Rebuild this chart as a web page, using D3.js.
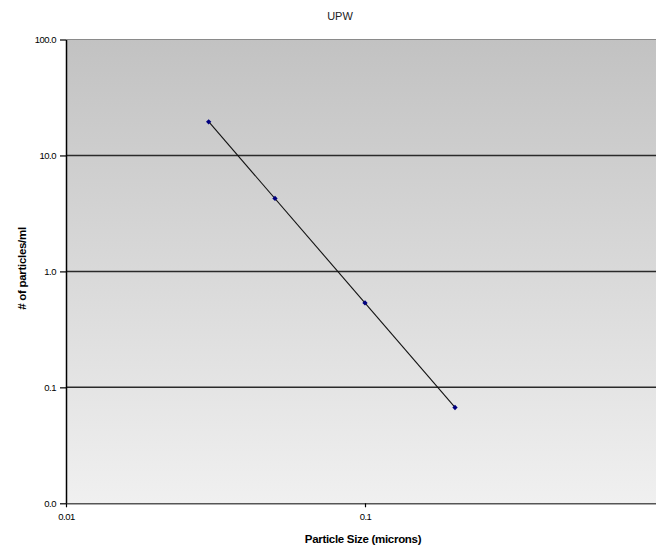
<!DOCTYPE html>
<html>
<head>
<meta charset="utf-8">
<script src="https://cdn.jsdelivr.net/npm/d3@7"></script>
<style>
html,body{margin:0;padding:0;background:#fff;}
svg{display:block;}
</style>
</head>
<body>
<svg id="chart" width="656" height="546"></svg>
<script>
// Data
const title = "UPW";
const xLabel = "Particle Size (microns)";
const yLabel = "# of particles/ml";
const particleSize = [0.03, 0.05, 0.1, 0.2];
const particleCount = [19.5, 4.26, 0.535, 0.067];
const xTicks = [0.01, 0.1];
const yTicks = [0.01, 0.1, 1, 10, 100];
const yTickLabels = ["0.0", "0.1", "1.0", "10.0", "100.0"];
const xTickLabels = ["0.01", "0.1"];

const svg = d3.select("#chart");
const pLeft = 66, pTop = 39.5, pBottom = 503.3, pRight = 664;

const x = d3.scaleLog().domain([0.01, 1]).range([pLeft, pRight]);
const y = d3.scaleLog().domain([0.01, 100]).range([pBottom, pTop]);

const defs = svg.append("defs");
const grad = defs.append("linearGradient").attr("id", "bg")
  .attr("x1", 0).attr("y1", 0).attr("x2", 0).attr("y2", 1);
grad.append("stop").attr("offset", "0%").attr("stop-color", "#c2c2c2");
grad.append("stop").attr("offset", "100%").attr("stop-color", "#f0f0f0");

svg.append("rect").attr("x", pLeft).attr("y", pTop)
  .attr("width", pRight - pLeft + 10).attr("height", pBottom - pTop)
  .attr("fill", "url(#bg)");

// top border
svg.append("line").attr("x1", pLeft).attr("x2", 700).attr("y1", pTop).attr("y2", pTop)
  .attr("stroke", "#8a8a8a").attr("stroke-width", 1.2);

// gridlines
svg.append("g").selectAll("line").data(yTicks.filter(d => d > 0.01 && d < 100)).join("line")
  .attr("x1", pLeft).attr("x2", 700)
  .attr("y1", d => y(d)).attr("y2", d => y(d))
  .attr("stroke", "#2a2a2a").attr("stroke-width", 1.5);

// Y axis
const yAxis = d3.axisLeft(y).tickValues(yTicks)
  .tickFormat((d, i) => yTickLabels[i]).tickSize(6).tickSizeOuter(0);
const gy = svg.append("g").attr("transform", `translate(${pLeft},0)`).call(yAxis);
gy.select(".domain").attr("stroke", "#000").attr("stroke-width", 1.5);
gy.selectAll(".tick line").attr("stroke", "#000").attr("stroke-width", 1.2);
gy.selectAll("text").attr("font-family", "Arial, 'Liberation Sans', sans-serif")
  .attr("font-size", 9.5).attr("fill", "#000").attr("x", -10).attr("letter-spacing", "-0.5");

// X axis
const xAxis = d3.axisBottom(x).tickValues(xTicks)
  .tickFormat((d, i) => xTickLabels[i]).tickSize(4).tickSizeOuter(0);
const gx = svg.append("g").attr("transform", `translate(0,${pBottom})`).call(xAxis);
gx.select(".domain").attr("stroke", "#555").attr("stroke-width", 1.5);
gx.selectAll(".tick line").attr("stroke", "#000").attr("stroke-width", 1.2);
gx.selectAll("text").attr("font-family", "Arial, 'Liberation Sans', sans-serif")
  .attr("font-size", 9.5).attr("fill", "#000").attr("y", 10).attr("letter-spacing", "-0.5");

// Power trendline fit from data (log-log linear regression)
const lx = particleSize.map(Math.log10), ly = particleCount.map(Math.log10);
const mx = d3.mean(lx), my = d3.mean(ly);
const slope = d3.sum(lx.map((v, i) => (v - mx) * (ly[i] - my))) / d3.sum(lx.map(v => (v - mx) ** 2));
const icpt = my - slope * mx;
const fitX = [particleSize[0], particleSize[particleSize.length - 1]];
const fitPts = fitX.map(v => [v, Math.pow(10, icpt + slope * Math.log10(v))]);
svg.append("path").datum(fitPts)
  .attr("d", d3.line().x(d => x(d[0])).y(d => y(d[1])))
  .attr("fill", "none").attr("stroke", "#111").attr("stroke-width", 1.1);

// markers
svg.append("g").selectAll("path").data(particleSize).join("path")
  .attr("transform", (d, i) => `translate(${x(d)},${y(particleCount[i])}) rotate(45)`)
  .attr("d", d3.symbol().type(d3.symbolSquare).size(14))
  .attr("fill", "#000080");

// Title
svg.append("text").attr("x", 340).attr("y", 20).attr("text-anchor", "middle")
  .attr("font-family", "Arial, 'Liberation Sans', sans-serif").attr("font-size", 11)
  .attr("fill", "#222").text(title);

// X label
svg.append("text").attr("x", 363).attr("y", 543).attr("text-anchor", "middle")
  .attr("font-family", "Arial, 'Liberation Sans', sans-serif").attr("font-size", 11.5)
  .attr("font-weight", "bold").attr("letter-spacing", "-0.3").attr("fill", "#000").text(xLabel);

// Y label
svg.append("text").attr("transform", `translate(26,${(pTop + pBottom) / 2 - 3}) rotate(-90)`)
  .attr("text-anchor", "middle")
  .attr("font-family", "Arial, 'Liberation Sans', sans-serif").attr("font-size", 11.5)
  .attr("font-weight", "bold").attr("letter-spacing", "-0.3").attr("fill", "#000").text(yLabel);
</script>
</body>
</html>
